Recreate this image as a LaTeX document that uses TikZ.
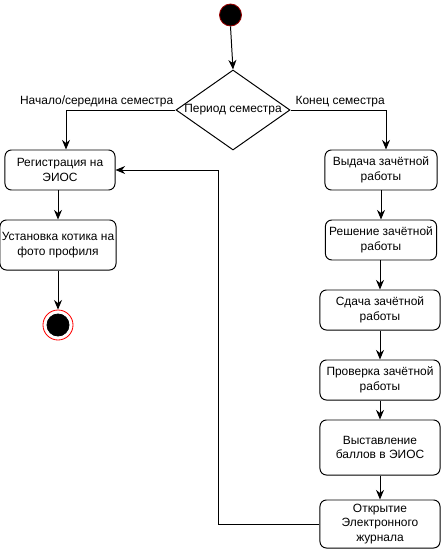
\documentclass[tikz,border=0pt]{standalone}
\usepackage{fontspec}
\setmainfont{Liberation Sans}
\usetikzlibrary{shapes.geometric,arrows.meta}

\begin{document}
\begin{tikzpicture}[x=0.025cm,y=-0.025cm,
    line width=0.7pt,
    font=\fontsize{8.5}{10.5}\selectfont,
    every edge/.style={draw,-{Stealth[length=2.4mm,width=2mm]}},
    act/.style={draw,rounded corners=1.6mm,align=center,inner sep=1pt,
      minimum width=3cm,minimum height=1cm},
    decision/.style={draw,diamond,inner sep=0pt,minimum width=2.85cm,minimum height=2cm},
    startdot/.style={circle,fill=black,draw=red!60!black,line width=0.6pt,
      inner sep=0pt,minimum size=0.55cm},
    endring/.style={circle,draw=red,fill=white,line width=0.6pt,
      inner sep=0pt,minimum size=0.75cm}]
  \useasboundingbox (0,0) rectangle (441,551);

  % Start and decision
  \node[startdot] (start) at (230.5,15) {};
  \node[decision,label={center:Период семестра}] (dec) at (233,110) {};

  % Left branch
  \node[act,minimum width=2.75cm] (reg) at (60,170) {Регистрация на\\ЭИОС};
  \node[act,minimum width=2.9cm,minimum height=1.25cm] (kot) at (58,245)
    {Установка котика на\\фото профиля};
  \node[endring] (fin) at (58,325) {};
  \node[startdot,draw=black] (finin) at (fin) {};

  % Right branch
  \node[act,minimum width=2.8cm] (vyd) at (381,170) {Выдача зачётной\\работы};
  \node[act,minimum width=2.78cm] (resh) at (381,240) {Решение зачётной\\работы};
  \node[act] (sdacha) at (380,310) {Сдача зачётной\\работы};
  \node[act] (prov) at (380,380) {Проверка зачётной\\работы};
  \node[act,minimum height=1.375cm] (vyst) at (380,447.5) {Выставление\\баллов в ЭИОС};
  \node[act,minimum height=1.2cm] (otkr) at (380,524) {Открытие\\Электронного\\журнала};
  \coordinate (back) at (218,170);

  % Connectors
  \draw (start.south) edge (dec.north);
  \draw[-{Stealth[length=2.4mm,width=2mm]}] (dec.west) -|
    node[above,pos=0.36,inner sep=2pt] {Начало/середина семестра}
    ([xshift=0.15cm]reg.north);
  \draw[-{Stealth[length=2.4mm,width=2mm]}] (dec.east) -|
    node[above,pos=0.26,inner sep=2pt] {Конец семестра}
    ([xshift=0.125cm]vyd.north);
  \draw (kot.north |- reg.south) edge (kot.north);
  \draw (kot.south) edge (fin.north);
  \foreach \a/\b in {vyd/resh,resh/sdacha,sdacha/prov,prov/vyst,vyst/otkr}
    \draw (\b.north |- \a.south) edge (\b.north);
  \draw[-{Stealth[length=2.4mm,width=2mm]}] (otkr.west) -| (back) -- (reg.east);
\end{tikzpicture}
\end{document}
